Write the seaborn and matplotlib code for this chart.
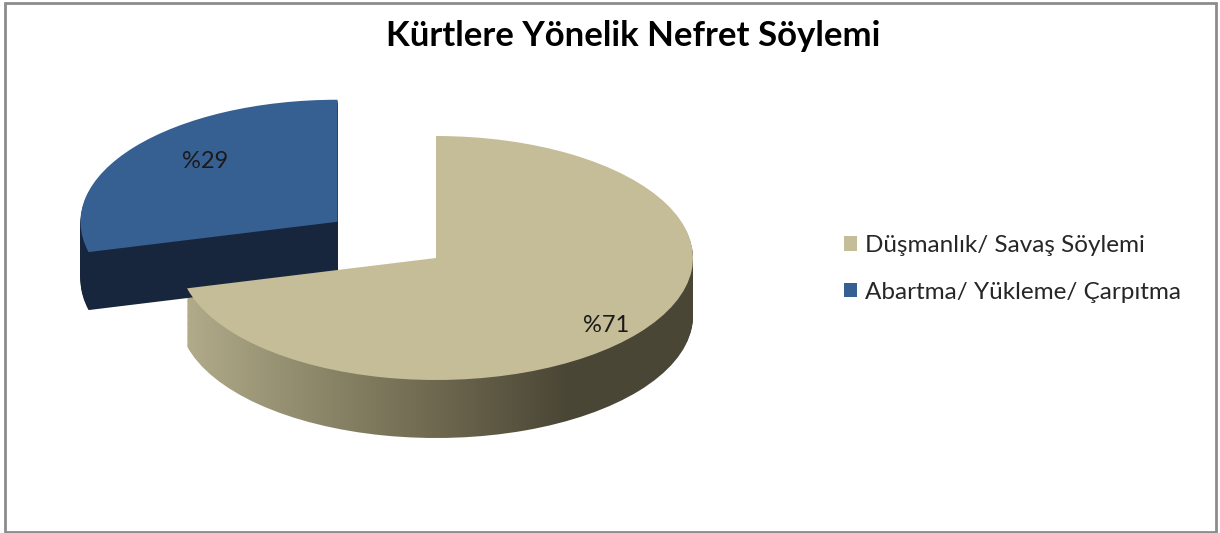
import numpy as np
import matplotlib
matplotlib.use("Agg")
import matplotlib.pyplot as plt
import seaborn as sns
from matplotlib.patches import Rectangle, Patch
from matplotlib.colors import LinearSegmentedColormap

sns.set_theme(style="white")
plt.rcParams['font.family'] = ['Lato', 'DejaVu Sans']

# ---- data ----
title = "Kürtlere Yönelik Nefret Söylemi"
categories = ["Düşmanlık/ Savaş Söylemi", "Abartma/ Yükleme/ Çarpıtma"]
values = [71, 29]
top_colors = ["#C4BD97", "#376092"]
side_colors = ["#8A8467", "#17263D"]
explode = [0.0, 0.485]

W, H = 1220, 533
fig = plt.figure(figsize=(W / 100, H / 100), dpi=100)
fig.patch.set_facecolor("white")

# pixel geometry of the ellipse (top face)
cx, cy, rx, ry = 436, 258, 257, 122
depth_px = 58
ax = fig.add_axes([0, 0, 1, 1])

def setlims():
    ax.set_aspect('auto')
    ax.set_xlim(-cx / rx, (W - cx) / rx)
    ax.set_ylim(-(H - cy) / ry, cy / ry)
    ax.axis('off')

depth = depth_px / ry
nlayers = 50
grad = np.linspace(0, 1, 256)[None, :]
beige_side = LinearSegmentedColormap.from_list("bs", ["#B3AD8C", "#8F8A6C", "#6E684F", "#4B4736", "#4A4636"])

for i in range(nlayers, 0, -1):
    off = -depth * i / nlayers
    wedges, _ = ax.pie(values, explode=explode, colors=side_colors, startangle=90,
                       counterclock=False, center=(0, off), radius=1,
                       wedgeprops=dict(linewidth=0))
    wedges[0].set_facecolor("none")
    im = ax.imshow(grad, cmap=beige_side, aspect='auto',
                   extent=(-1.0, 1.0, off - 1.2, off + 1.2), zorder=0.5)
    im.set_clip_path(wedges[0])
    setlims()

wedges, texts, autotexts = ax.pie(values, explode=explode, colors=top_colors, startangle=90,
                                  counterclock=False, center=(0, 0), radius=1,
                                  autopct=lambda p: "%" + f"{p:.0f}",
                                  wedgeprops=dict(linewidth=0),
                                  textprops=dict(fontsize=17, color="#1a1a1a"))
for w in wedges:
    w.set_zorder(3)
setlims()
label_px = [(606, 325), (205, 162)]
for t, (px, py) in zip(autotexts, label_px):
    t.set_position(((px - cx) / rx, (cy - py) / ry))
    t.set_zorder(5)
    t.set_ha("center"); t.set_va("center")

fig.text(0.5 + 23 / W, 1 - 36 / H, title, ha="center", va="center", fontsize=25,
         fontweight="bold", color="#000000")

handles = [Patch(facecolor=c, edgecolor="none") for c in top_colors]
leg = fig.legend(handles, categories, loc="center left", bbox_to_anchor=(822 / W, 1 - 269 / H),
                 frameon=False, fontsize=17.5, handlelength=0.55, handleheight=0.55,
                 handletextpad=0.3, labelspacing=1.05)

fig.add_artist(Rectangle((5 / W, 1.5 / H), 1211 / W, 529 / H, transform=fig.transFigure,
                         fill=False, edgecolor="#8C8C8C", linewidth=2))

fig.savefig("out.png", dpi=100, facecolor="white")
